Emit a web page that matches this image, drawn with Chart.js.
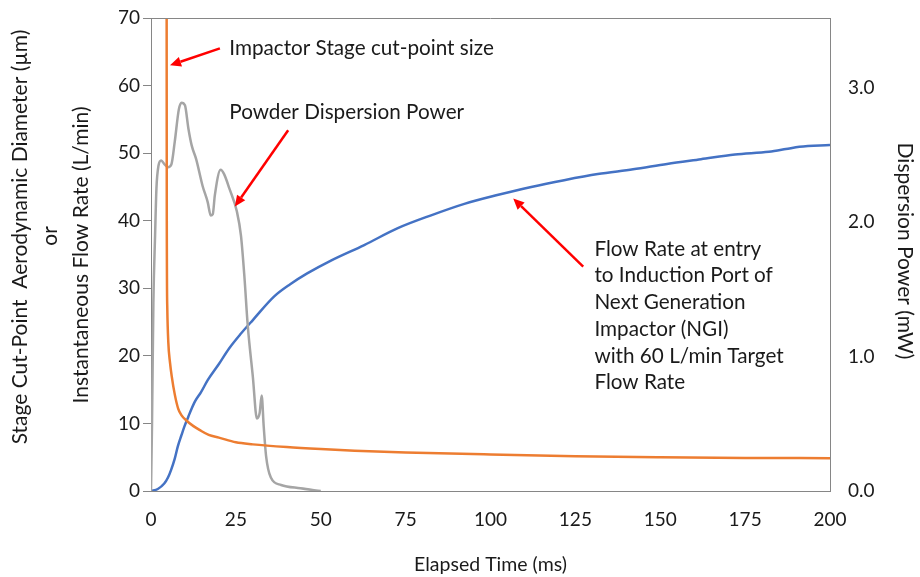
<!DOCTYPE html>
<html>
<head>
<meta charset="utf-8">
<script src="https://cdn.jsdelivr.net/npm/chart.js@4.4.1/dist/chart.umd.min.js"></script>
<style>
html,body{margin:0;padding:0;background:#fff;}
#wrap{width:920px;height:577px;position:relative;}
</style>
</head>
<body>
<div id="wrap"><canvas id="c" width="920" height="577"></canvas></div>
<script>
// ---- Data ----
const flowTime = [0, 2, 3.9, 5, 5.9, 7, 7.9, 9, 9.8, 11, 11.8, 13, 14.7, 16.7, 20, 23, 26.5, 30, 36.3, 41, 46, 53, 62.8, 72.7, 82.5, 92.3, 102, 112, 121.7, 131.6, 142, 152, 162, 172, 182, 187, 191, 200];
const flowRate = [0, 0.3, 1.1, 2.0, 3.1, 4.8, 6.6, 8.3, 9.5, 11.0, 12.0, 13.3, 14.6, 16.4, 18.8, 21.1, 23.3, 25.3, 28.8, 30.6, 32.2, 34.1, 36.4, 38.9, 40.8, 42.5, 43.8, 45.0, 46.0, 46.9, 47.6, 48.4, 49.1, 49.8, 50.2, 50.6, 50.95, 51.2];

const cutTime = [4.55, 4.65, 4.8, 5.1, 5.6, 6.1, 7, 8, 9, 10.5, 12.5, 14.4, 17, 20, 25, 30, 40, 50, 60, 75, 100, 125, 150, 175, 200];
const cutSize = [120, 40, 27, 22, 19, 17, 14.3, 12.2, 11.2, 10.4, 9.6, 9.0, 8.3, 7.9, 7.2, 6.9, 6.5, 6.2, 5.95, 5.7, 5.4, 5.15, 5.0, 4.9, 4.85];

const powerTime = [0, 0.3, 0.7, 1.2, 1.6, 2.2, 3.0, 4.0, 5.0, 6.0, 7.0, 8.2, 9.0, 10.0, 11.0, 12.0, 13.3, 15.2, 16.7, 17.6, 18.2, 18.8, 20.5, 21.5, 23.1, 25.3, 26.5, 27.5, 28.5, 30.0, 31.2, 32.0, 32.6, 33.2, 33.9, 35.3, 38.3, 44, 50];
const powerMw = [0, 0.5, 1.4, 1.9, 2.25, 2.42, 2.46, 2.43, 2.41, 2.43, 2.6, 2.84, 2.89, 2.87, 2.7, 2.57, 2.47, 2.27, 2.15, 2.05, 2.06, 2.2, 2.39, 2.36, 2.25, 2.08, 1.9, 1.6, 1.23, 0.85, 0.54, 0.58, 0.71, 0.48, 0.26, 0.1, 0.045, 0.02, 0];

const xTickValues = [0, 25, 50, 75, 100, 125, 150, 175, 200];
const leftTickValues = [0, 10, 20, 30, 40, 50, 60, 70];
const rightTickValues = [0, 1, 2, 3];

const leftTitleLines = ['Stage Cut-Point  Aerodynamic Diameter (µm)', 'or', 'Instantaneous Flow Rate (L/min)'];
const rightTitle = 'Dispersion Power (mW)';
const xTitle = 'Elapsed Time (ms)';

const notes = [
  {lines: ['Impactor Stage cut-point size'], tx: 23.06, ty: 65.5, from: [20.3, 65.5], to: [5.6, 63.0]},
  {lines: ['Powder Dispersion Power'], tx: 23.06, ty: 56.1, from: [40.4, 53.4], to: [24.7, 42.1]},
  {lines: ['Flow Rate at entry', 'to Induction Port of', 'Next Generation', 'Impactor (NGI)', 'with 60 L/min Target', 'Flow Rate'], tx: 130.6, ty: 35.8, from: [127.3, 33.2], to: [106.7, 43.3]}
];

const pts = (xs, ys) => xs.map((x, i) => ({x: x, y: ys[i]}));

const FONT = 'Lato, "Open Sans", sans-serif';
const AXIS = '#868686';
const TEXT = '#1a1a1a';

// title text, sized to span the given length
function titleText(ctx, text, cx, cy, rot, span) {
  ctx.font = '18px ' + FONT;
  const w = ctx.measureText(text).width;
  const size = Math.max(16, Math.min(21, 18 * span / w));
  ctx.font = size.toFixed(2) + 'px ' + FONT;
  ctx.save();
  ctx.translate(cx, cy);
  ctx.rotate(rot);
  ctx.fillText(text, 0, 0);
  ctx.restore();
}

const annotate = {
  id: 'annotate',
  afterDatasetsDraw(chart) {
    const {ctx, chartArea, scales: {x, y}} = chart;
    ctx.save();
    // top frame line
    ctx.strokeStyle = AXIS; ctx.lineWidth = 1;
    ctx.beginPath(); ctx.moveTo(chartArea.left, chartArea.top + 0.5); ctx.lineTo(chartArea.right, chartArea.top + 0.5); ctx.stroke();
    ctx.font = '20.7px ' + FONT;
    ctx.fillStyle = TEXT;
    ctx.textBaseline = 'middle';
    ctx.textAlign = 'left';
    notes.forEach(n => {
      const px = x.getPixelForValue(n.tx);
      const py = y.getPixelForValue(n.ty);
      n.lines.forEach((l, i) => ctx.fillText(l, px, py + i * 26.7));
      const x0 = x.getPixelForValue(n.from[0]), y0 = y.getPixelForValue(n.from[1]);
      const x1 = x.getPixelForValue(n.to[0]), y1 = y.getPixelForValue(n.to[1]);
      const ang = Math.atan2(y1 - y0, x1 - x0);
      const hl = 11, hw = 5;
      const bx = x1 - hl * Math.cos(ang), by = y1 - hl * Math.sin(ang);
      ctx.strokeStyle = '#ff0000'; ctx.fillStyle = '#ff0000'; ctx.lineWidth = 2.5;
      ctx.beginPath(); ctx.moveTo(x0, y0); ctx.lineTo(bx, by); ctx.stroke();
      ctx.beginPath();
      ctx.moveTo(x1, y1);
      ctx.lineTo(bx + hw * Math.sin(ang), by - hw * Math.cos(ang));
      ctx.lineTo(bx - hw * Math.sin(ang), by + hw * Math.cos(ang));
      ctx.closePath(); ctx.fill();
      ctx.fillStyle = TEXT;
    });
    // axis titles
    ctx.textAlign = 'center';
    titleText(ctx, leftTitleLines[0], 20, 237, -Math.PI / 2, 415);
    titleText(ctx, leftTitleLines[1], 50, 236, -Math.PI / 2, 20);
    titleText(ctx, leftTitleLines[2], 81, 255, -Math.PI / 2, 297);
    titleText(ctx, rightTitle, 905, 251, Math.PI / 2, 221);
    ctx.font = '19.5px ' + FONT;
    ctx.fillText(xTitle, (chartArea.left + chartArea.right) / 2, 565);
    ctx.restore();
  }
};

const zeroPad = s => { s.paddingTop = 0; s.paddingBottom = 0; s.paddingLeft = 0; s.paddingRight = 0; };

new Chart(document.getElementById('c'), {
  type: 'line',
  data: {
    datasets: [
      {label: 'Flow Rate', data: pts(flowTime, flowRate), yAxisID: 'y', borderColor: '#4472C4', borderWidth: 2.5, pointRadius: 0, cubicInterpolationMode: 'monotone', order: 3},
      {label: 'Cut-point', data: pts(cutTime, cutSize), yAxisID: 'y', borderColor: '#ED7D31', borderWidth: 2.5, pointRadius: 0, cubicInterpolationMode: 'monotone', order: 1},
      {label: 'Dispersion Power', data: pts(powerTime, powerMw), yAxisID: 'y1', borderColor: '#A5A5A5', borderWidth: 2.5, pointRadius: 0, cubicInterpolationMode: 'monotone', order: 2}
    ]
  },
  options: {
    responsive: false,
    animation: false,
    events: [],
    layout: {padding: {top: 18, left: 0, right: 0, bottom: 0}},
    plugins: {legend: {display: false}, tooltip: {enabled: false}},
    scales: {
      x: {
        type: 'linear', min: 0, max: 200,
        afterBuildTicks: s => { s.ticks = xTickValues.map(v => ({value: v})); },
        afterFit: s => { s.height = 86; zeroPad(s); },
        grid: {display: false, drawTicks: false},
        border: {display: true, color: AXIS, width: 1},
        ticks: {font: {family: FONT, size: 19}, color: TEXT, padding: 17, maxRotation: 0},
        title: {display: false}
      },
      y: {
        type: 'linear', position: 'left', min: 0, max: 70,
        afterBuildTicks: s => { s.ticks = leftTickValues.map(v => ({value: v})); },
        afterFit: s => { s.width = 151; zeroPad(s); },
        grid: {drawOnChartArea: false, drawTicks: true, tickLength: 8, color: AXIS},
        border: {display: true, color: AXIS, width: 1},
        ticks: {font: {family: FONT, size: 19}, color: TEXT, padding: 3},
        title: {display: false}
      },
      y1: {
        type: 'linear', position: 'right', min: 0, max: 3.52,
        afterBuildTicks: s => { s.ticks = rightTickValues.map(v => ({value: v})); },
        afterFit: s => { s.width = 90; zeroPad(s); },
        grid: {drawOnChartArea: false, drawTicks: false},
        border: {display: true, color: AXIS, width: 1},
        ticks: {font: {family: FONT, size: 19}, color: TEXT, padding: 18, callback: v => Number(v).toFixed(1)},
        title: {display: false}
      }
    }
  },
  plugins: [annotate]
});
</script>
</body>
</html>
